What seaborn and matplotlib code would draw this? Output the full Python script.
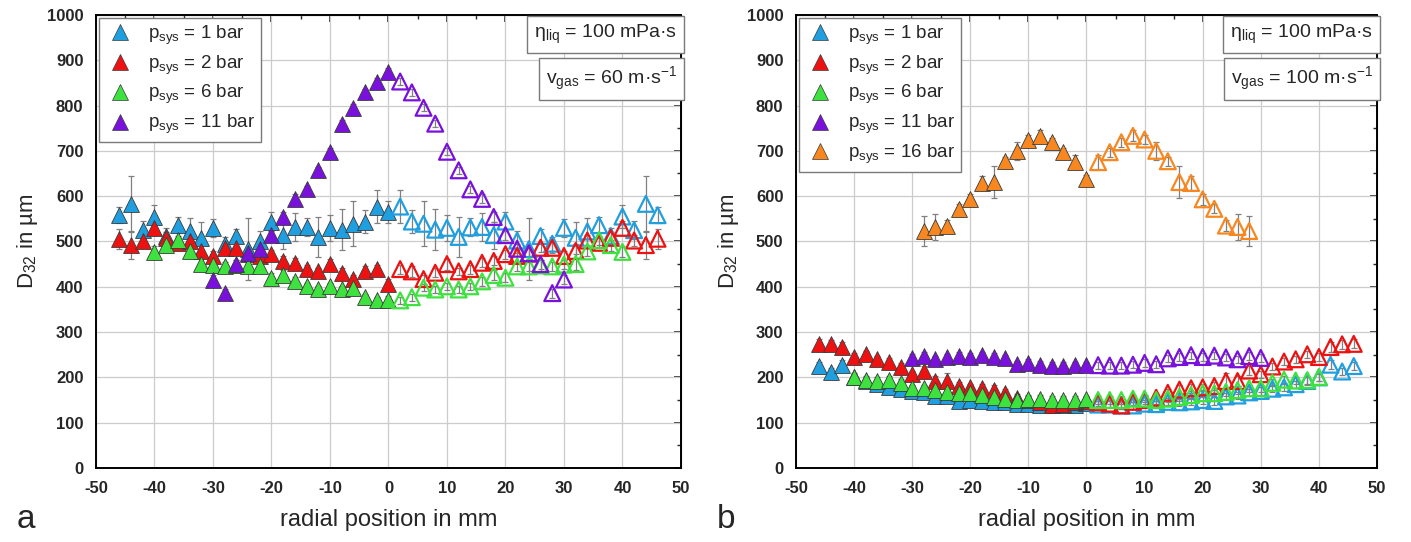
import numpy as np
import matplotlib
matplotlib.use("Agg")
import matplotlib.pyplot as plt
import seaborn as sns
from matplotlib.lines import Line2D
from matplotlib.ticker import MultipleLocator

sns.set_style("white")
plt.rcParams['font.family'] = ['Liberation Sans', 'DejaVu Sans']
plt.rcParams['mathtext.fontset'] = 'custom'
plt.rcParams['mathtext.rm'] = 'Liberation Sans'
plt.rcParams['mathtext.it'] = 'Liberation Sans:italic'
plt.rcParams['mathtext.bf'] = 'Liberation Sans:bold'
plt.rcParams['axes.unicode_minus'] = False

# colours used in both panels
c_blue = "#1f9fe0"
c_red = "#ee1111"
c_green = "#3ee23e"
c_purple = "#7a10dc"
c_orange = "#f7871e"

# measured radial positions (mm); open symbols are the mirrored side
x_46 = [-46, -44, -42, -40, -38, -36, -34, -32, -30, -28, -26, -24,
        -22, -20, -18, -16, -14, -12, -10, -8, -6, -4, -2, 0]
x_40 = [-40, -38, -36, -34, -32, -30, -28, -26, -24, -22, -20,
        -18, -16, -14, -12, -10, -8, -6, -4, -2, 0]
x_30 = [-30, -28, -26, -24, -22, -20, -18, -16, -14, -12, -10, -8, -6, -4, -2, 0]
x_28 = [-28, -26, -24, -22, -20, -18, -16, -14, -12, -10, -8, -6, -4, -2, 0]

# panel a: v_gas = 60 m/s
a_blue = [558, 583, 525, 555, 512, 536, 522, 508, 530, 495, 512, 483,
          502, 544, 514, 532, 531, 510, 530, 526, 539, 544, 577, 565]
a_blue_err = [18, 62, 20, 25, 18, 18, 30, 35, 20, 15, 15, 68,
              20, 22, 30, 30, 20, 45, 28, 45, 50, 25, 37, 25]
a_red = [506, 492, 502, 530, 508, 497, 502, 479, 468, 486, 486, 473,
         468, 472, 457, 453, 439, 434, 450, 431, 417, 434, 439, 407]
a_red_err = [22, 30, 12, 15, 12, 10, 12, 15, 10, 12, 10, 12,
             15, 10, 10, 10, 10, 8, 12, 10, 10, 12, 10, 10]
a_green = [477, 492, 503, 478, 450, 449, 445, 447, 445, 445, 420,
           426, 412, 401, 394, 401, 394, 398, 377, 370, 371]
a_green_err = [12, 12, 10, 10, 12, 10, 10, 12, 10, 10, 10,
               10, 10, 8, 8, 8, 8, 8, 8, 8, 8]
a_purple = [416, 386, 450, 474, 484, 514, 554, 594, 615, 657, 698, 760, 795, 829, 853, 874]
a_purple_err = [10, 10, 10, 12, 10, 10, 10, 10, 8, 8, 8, 8, 8, 8, 8, 8]

# panel b: v_gas = 100 m/s
b_blue = [225, 213, 228, 200, 192, 185, 178, 175, 170, 167, 160, 158,
          148, 150, 147, 145, 146, 141, 142, 138, 138, 140, 140, 143]
b_blue_err = [8, 8, 10, 8, 8, 8, 8, 8, 8, 8, 8, 8,
              8, 8, 8, 8, 8, 8, 8, 8, 8, 8, 8, 8]
b_red = [274, 273, 267, 245, 251, 240, 235, 224, 207, 215, 192, 192,
         181, 178, 176, 173, 166, 155, 150, 146, 138, 142, 145, 148]
b_red_err = [10, 10, 12, 8, 8, 8, 8, 8, 8, 10, 12, 18,
             8, 8, 10, 10, 8, 8, 8, 8, 8, 8, 8, 8]
b_green = [201, 194, 193, 195, 188, 176, 176, 172, 168, 165, 165,
           161, 157, 153, 150, 153, 153, 150, 150, 150, 152]
b_green_err = [8, 8, 8, 8, 8, 8, 8, 8, 8, 8, 8,
               8, 8, 8, 8, 8, 8, 8, 8, 8, 8]
b_purple = [243, 247, 240, 244, 248, 245, 249, 245, 242, 229, 232, 228, 226, 226, 227, 227]
b_purple_err = [8, 8, 8, 8, 8, 8, 8, 8, 8, 8, 8, 8, 8, 8, 8, 8]
b_orange = [523, 532, 535, 572, 593, 629, 631, 677, 700, 725, 733, 719, 697, 675, 637]
b_orange_err = [34, 28, 12, 10, 12, 15, 35, 10, 20, 10, 12, 10, 10, 15, 10]

legend_labels = [r"p$_{\mathrm{sys}}$ = 1 bar", r"p$_{\mathrm{sys}}$ = 2 bar",
                 r"p$_{\mathrm{sys}}$ = 6 bar", r"p$_{\mathrm{sys}}$ = 11 bar",
                 r"p$_{\mathrm{sys}}$ = 16 bar"]


def draw_series(ax, x, y, err, color):
    x = np.array(x)
    y = np.array(y)
    err = np.array(err)
    neg = x < 0
    # mirrored (open) half
    xm = -x[neg][::-1]
    ym = y[neg][::-1]
    em = err[neg][::-1]
    for xx, yy, ee in [(x, y, err), (xm, ym, em)]:
        ax.errorbar(xx, yy, yerr=ee, fmt='none', ecolor='#808080',
                    elinewidth=0.9, capsize=2.5, capthick=0.9, zorder=2)
    sns.scatterplot(x=x, y=y, ax=ax, marker='^', s=130, color=color,
                    edgecolor='#3a3a3a', linewidth=0.6, zorder=3)
    sns.scatterplot(x=xm, y=ym, ax=ax, marker='^', s=130, color=color,
                    facecolor='none', edgecolor=color, linewidth=1.6, zorder=3)


def style_axes(ax):
    ax.set_xlim(-50, 50)
    ax.set_ylim(0, 1000)
    ax.xaxis.set_major_locator(MultipleLocator(10))
    ax.xaxis.set_minor_locator(MultipleLocator(5))
    ax.yaxis.set_major_locator(MultipleLocator(100))
    ax.yaxis.set_minor_locator(MultipleLocator(50))
    ax.grid(True, which='major', color='#cccccc', lw=0.9)
    ax.set_axisbelow(True)
    for sp in ax.spines.values():
        sp.set_visible(True)
        sp.set_color('black')
        sp.set_linewidth(1.4)
    ax.tick_params(which='major', direction='out', length=5, width=1.2,
                   labelsize=12, color='black', pad=4)
    ax.tick_params(which='minor', direction='out', length=3, width=1.0, color='black')
    for lab in ax.get_xticklabels() + ax.get_yticklabels():
        lab.set_fontweight('bold')
    # inward ticks on top and right
    top = ax.secondary_xaxis('top')
    top.xaxis.set_major_locator(MultipleLocator(10))
    top.xaxis.set_minor_locator(MultipleLocator(5))
    top.tick_params(which='major', direction='in', length=5, width=1.2, labeltop=False)
    top.tick_params(which='minor', direction='in', length=3, width=1.0)
    right = ax.secondary_yaxis('right')
    right.yaxis.set_major_locator(MultipleLocator(100))
    right.yaxis.set_minor_locator(MultipleLocator(50))
    right.tick_params(which='major', direction='in', length=5, width=1.2, labelright=False)
    right.tick_params(which='minor', direction='in', length=3, width=1.0)
    ax.set_xlabel("radial position in mm", fontsize=17, labelpad=10)
    ax.set_ylabel(r"D$_{\mathrm{32}}$ in µm", fontsize=16)


def add_boxes(ax, vtext):
    box = dict(boxstyle='square,pad=0.35', fc='white', ec='#7a7a7a', lw=1.0)
    ax.text(0.993, 0.982, r"η$_{\mathrm{liq}}$ = 100 mPa·s", transform=ax.transAxes,
            ha='right', va='top', fontsize=14, bbox=box, zorder=6)
    ax.text(0.993, 0.890, vtext, transform=ax.transAxes,
            ha='right', va='top', fontsize=14, bbox=box, zorder=6)


def add_legend(ax, cols):
    handles = [Line2D([], [], marker='^', ls='', markersize=11, markerfacecolor=c,
                      markeredgecolor='#3a3a3a', markeredgewidth=0.5) for c in cols]
    leg = ax.legend(handles, legend_labels[:len(cols)], loc='upper left',
                    bbox_to_anchor=(0.006, 0.993), borderaxespad=0, fontsize=13.5,
                    frameon=True, fancybox=False, edgecolor='#7a7a7a',
                    framealpha=1, handletextpad=0.7, labelspacing=0.35,
                    borderpad=0.3, handlelength=1.6)
    leg.get_frame().set_linewidth(1.0)
    leg.set_zorder(6)


fig = plt.figure(figsize=(14.11, 5.42), dpi=100)
ax1 = fig.add_axes([0.068, 0.1365, 0.4146, 0.836])
ax2 = fig.add_axes([0.5641, 0.1365, 0.4118, 0.836])

draw_series(ax1, x_46, a_blue, a_blue_err, c_blue)
draw_series(ax1, x_46, a_red, a_red_err, c_red)
draw_series(ax1, x_40, a_green, a_green_err, c_green)
draw_series(ax1, x_30, a_purple, a_purple_err, c_purple)

draw_series(ax2, x_46, b_blue, b_blue_err, c_blue)
draw_series(ax2, x_46, b_red, b_red_err, c_red)
draw_series(ax2, x_40, b_green, b_green_err, c_green)
draw_series(ax2, x_30, b_purple, b_purple_err, c_purple)
draw_series(ax2, x_28, b_orange, b_orange_err, c_orange)

for ax in (ax1, ax2):
    style_axes(ax)
    ax.yaxis.set_label_coords(-0.095, 0.5)

add_legend(ax1, [c_blue, c_red, c_green, c_purple])
add_legend(ax2, [c_blue, c_red, c_green, c_purple, c_orange])
add_boxes(ax1, r"v$_{\mathrm{gas}}$ = 60 m·s$^{\mathrm{-1}}$")
add_boxes(ax2, r"v$_{\mathrm{gas}}$ = 100 m·s$^{\mathrm{-1}}$")

fig.text(0.012, 0.025, "a", fontsize=24)
fig.text(0.508, 0.025, "b", fontsize=24)

fig.savefig("out.png", dpi=100)
